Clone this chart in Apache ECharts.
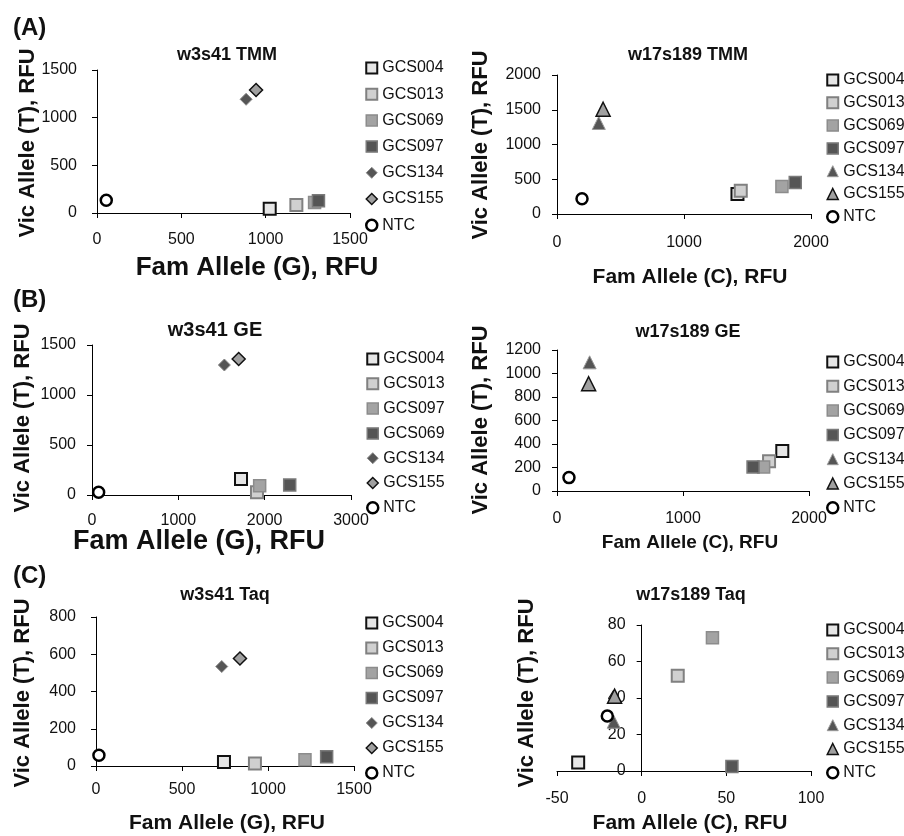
<!DOCTYPE html>
<html>
<head>
<meta charset="utf-8">
<title>Allele discrimination plots</title>
<script src="https://cdn.jsdelivr.net/npm/echarts@6/dist/echarts.min.js"></script>
<style>
  html, body { margin: 0; padding: 0; background: #fff; }
  #chart { width: 904px; height: 836px; }
</style>
</head>
<body>
<div id="chart"></div>
<script>
// sample names in legend order (the w3s41 GE panel lists 097 before 069)
const samples = ['GCS004', 'GCS013', 'GCS069', 'GCS097', 'GCS134', 'GCS155', 'NTC'];
const samplesW3GE = ['GCS004', 'GCS013', 'GCS097', 'GCS069', 'GCS134', 'GCS155', 'NTC'];

// Fam / Vic RFU, one value per sample in legend order
const w3TmmFam = [1024, 1182, 1290, 1313, 884, 943, 55];
const w3TmmVic = [45, 84, 110, 129, 1193, 1290, 133];
const w17TmmFam = [1421, 1447, 1771, 1876, 329, 363, 197];
const w17TmmVic = [287, 335, 397, 455, 1310, 1507, 220];
const w3GeFam = [1726, 1911, 1942, 2290, 1533, 1699, 77];
const w3GeVic = [160, 27, 93, 100, 1300, 1360, 27];
const w17GeFam = [1788, 1683, 1640, 1556, 259, 251, 95];
const w17GeVic = [341, 253, 205, 205, 1095, 913, 114];
const w3TaqFam = [744, 924, 1215, 1341, 731, 837, 17];
const w3TaqVic = [22, 13, 34, 49, 534, 577, 58];
const w17TaqFam = [-37.5, 21.3, 41.8, 53.3, -16.5, -16, -20.3];
const w17TaqVic = [4.7, 52.2, 73, 2.4, 27, 41, 30.1];

const panelTitles = ['w3s41 TMM', 'w17s189 TMM', 'w3s41 GE', 'w17s189 GE', 'w3s41 Taq', 'w17s189 Taq'];
const xTitles = ['Fam Allele (G), RFU', 'Fam Allele (C), RFU', 'Fam Allele (G), RFU',
  'Fam Allele (C), RFU', 'Fam Allele (G), RFU', 'Fam Allele (C), RFU'];
const yTitle = 'Vic Allele (T), RFU';
const rowLabels = ['(A)', '(B)', '(C)'];

// axis scales: [min, max, interval]
const xScales = [[0, 1500, 500], [0, 2000, 1000], [0, 3000, 1000], [0, 2000, 1000], [0, 1500, 500], [-50, 100, 50]];
const yScales = [[0, 1500, 500], [0, 2000, 500], [0, 1500, 500], [0, 1200, 200], [0, 800, 200], [0, 80, 20]];

const panels = [
  { names: samples, fam: w3TmmFam, vic: w3TmmVic, tri: false },
  { names: samples, fam: w17TmmFam, vic: w17TmmVic, tri: true },
  { names: samplesW3GE, fam: w3GeFam, vic: w3GeVic, tri: false },
  { names: samples, fam: w17GeFam, vic: w17GeVic, tri: true },
  { names: samples, fam: w3TaqFam, vic: w3TaqVic, tri: false },
  { names: samples, fam: w17TaqFam, vic: w17TaqVic, tri: true }
];

// pixel layout of each small chart (measured on the figure)
const layout = [
  { grid: [97, 70, 253, 143], title: [227, 53, 18], legend: [365, 59, 8.2], xl: [19, 20],
    xName: [257, 268, 26], yName: [28, 143] },
  { grid: [557, 75, 254, 139], title: [688, 53, 18], legend: [826, 71, 4.8], xl: [21, 16],
    xName: [690, 277, 21], yName: [481, 145] },
  { grid: [92, 345, 259, 150], title: [215, 328, 20], legend: [366, 350, 6.8], xl: [18, 16],
    xName: [199, 542, 27], yName: [23, 418] },
  { grid: [557, 350, 252, 141], title: [688, 330, 18], legend: [826, 353, 6.3], xl: [20, 16],
    xName: [690, 543, 19], yName: [481, 420] },
  { grid: [96, 617, 258, 149], title: [225, 593, 18], legend: [365, 614, 7], xl: [16, 20],
    xName: [227, 823, 21], yName: [23, 693] },
  { grid: [557, 625, 254, 146], title: [691, 593, 18], legend: [826, 621, 5.8], xl: [20, 16],
    xName: [690, 823, 21], yName: [527, 693] }
];
const rowLabelY = [28, 300, 576];

const FONT = '"Liberation Sans", Arial, sans-serif';
const INK = '#111';

// marker look per legend slot
const sq = (fill, border, bw) => ({ symbol: 'rect', size: 12, style: { color: fill, borderColor: border, borderWidth: bw } });
const slotStyles = [
  sq('#e6e6e6', '#111', 2),
  sq('#d0d0d0', '#808080', 2),
  sq('#a3a3a3', '#8c8c8c', 1.5),
  sq('#555555', '#7a7a7a', 1.5),
  { symbol: 'diamond', size: 12, style: { color: '#555555', borderColor: '#8a8a8a', borderWidth: 1 } },
  { symbol: 'diamond', size: 13, style: { color: '#a0a0a0', borderColor: '#111', borderWidth: 1.5 } },
  { symbol: 'circle', size: 11, style: { color: '#fff', borderColor: '#000', borderWidth: 2.5 } }
];
const triStyles = [
  { symbol: 'triangle', size: 13, style: { color: '#555555', borderColor: '#999', borderWidth: 1 } },
  { symbol: 'triangle', size: 14, style: { color: '#a0a0a0', borderColor: '#111', borderWidth: 1.5 } }
];
function styleFor(p, i) {
  if (panels[p].tri && (i === 4 || i === 5)) return triStyles[i - 4];
  return slotStyles[i];
}

const grids = [], xAxes = [], yAxes = [], titles = [], legends = [], series = [], graphics = [];

panels.forEach((pn, p) => {
  const L = layout[p];
  grids.push({ left: L.grid[0], top: L.grid[1], width: L.grid[2], height: L.grid[3] });

  const axisBase = {
    gridIndex: p,
    type: 'value',
    axisLine: { onZero: false, lineStyle: { color: '#000', width: 1 } },
    axisTick: { length: 5, lineStyle: { color: '#000' } },
    splitLine: { show: false }
  };
  const labelBase = { fontSize: 16, color: INK, fontFamily: FONT, formatter: v => String(v) };
  xAxes.push(Object.assign({}, axisBase, {
    min: xScales[p][0], max: xScales[p][1], interval: xScales[p][2],
    axisLabel: Object.assign({ margin: L.xl[0] }, labelBase)
  }));
  // vertical axis sits where Fam = 0 (matters for the panel whose x range starts below zero)
  const xs = xScales[p];
  const zeroShift = xs[0] < 0 ? -(0 - xs[0]) / (xs[1] - xs[0]) * L.grid[2] : 0;
  yAxes.push(Object.assign({}, axisBase, {
    min: yScales[p][0], max: yScales[p][1], interval: yScales[p][2],
    offset: zeroShift,
    axisLabel: Object.assign({ margin: L.xl[1] }, labelBase)
  }));

  titles.push({
    text: panelTitles[p],
    left: L.title[0], top: L.title[1] - L.title[2] / 2 + 2,
    textAlign: 'center', padding: 0,
    textStyle: { fontSize: L.title[2], fontWeight: 'bold', color: INK, fontFamily: FONT }
  });

  legends.push({
    orient: 'vertical',
    left: L.legend[0], top: L.legend[1],
    itemGap: L.legend[2], itemWidth: 11, itemHeight: 11, padding: 0,
    selectedMode: false,
    textStyle: { fontSize: 16, lineHeight: 18, color: INK, fontFamily: FONT },
    data: pn.names.map((name, i) => {
      const s = styleFor(p, i);
      return { name: name, icon: s.symbol, itemStyle: Object.assign({}, s.style) };
    })
  });

  pn.names.forEach((name, i) => {
    const s = styleFor(p, i);
    series.push({
      type: 'scatter',
      name: name,
      xAxisIndex: p, yAxisIndex: p,
      symbol: s.symbol, symbolSize: s.size,
      itemStyle: Object.assign({ opacity: 1 }, s.style),
      emphasis: { disabled: true },
      data: [[pn.fam[i], pn.vic[i]]]
    });
  });

  graphics.push({
    type: 'text', x: L.xName[0], y: L.xName[1],
    style: { text: xTitles[p], fontSize: L.xName[2], fontWeight: 'bold', fontFamily: FONT, fill: INK,
      textAlign: 'center', textVerticalAlign: 'middle', align: 'center', verticalAlign: 'middle' }
  });
  graphics.push({
    type: 'text', x: L.yName[0], y: L.yName[1], rotation: Math.PI / 2,
    style: { text: yTitle, fontSize: 22, fontWeight: 'bold', fontFamily: FONT, fill: INK,
      textAlign: 'center', textVerticalAlign: 'middle', align: 'center', verticalAlign: 'middle' }
  });
});

rowLabels.forEach((t, r) => {
  graphics.push({
    type: 'text', x: 13, y: rowLabelY[r],
    style: { text: t, fontSize: 24, fontWeight: 'bold', fontFamily: FONT, fill: INK,
      textAlign: 'left', textVerticalAlign: 'middle', align: 'left', verticalAlign: 'middle' }
  });
});

const chart = echarts.init(document.getElementById('chart'), null, { renderer: 'canvas' });
chart.setOption({
  backgroundColor: '#fff',
  animation: false,
  title: titles,
  legend: legends,
  grid: grids,
  xAxis: xAxes,
  yAxis: yAxes,
  series: series,
  graphic: graphics
});
</script>
</body>
</html>
